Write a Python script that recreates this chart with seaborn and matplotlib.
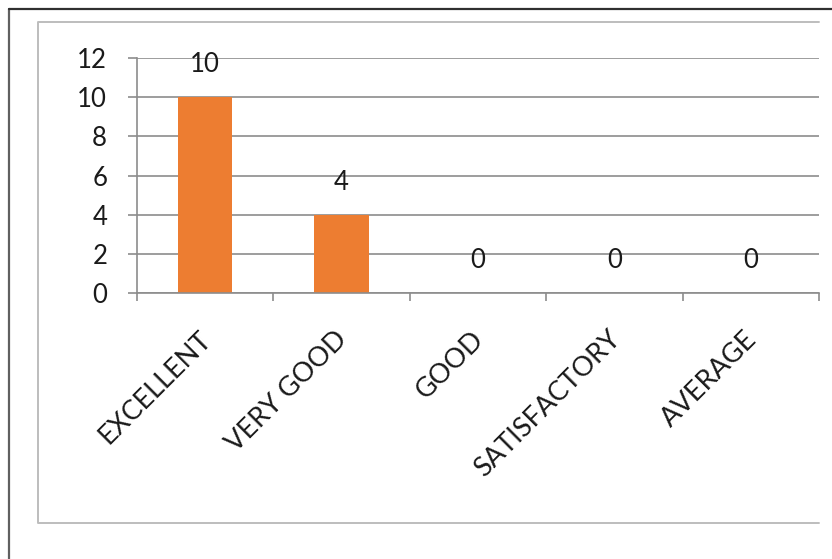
import pandas as pd
import seaborn as sns
import matplotlib.pyplot as plt
import matplotlib.transforms as mtransforms
from matplotlib.lines import Line2D

# datos del grafico
categorias = ['EXCELLENT', 'VERY GOOD', 'GOOD', 'SATISFACTORY', 'AVERAGE']
valores = [10, 4, 0, 0, 0]
y_ticks = [0, 2, 4, 6, 8, 10, 12]

df = pd.DataFrame({'categoria': categorias, 'valor': valores})

sns.set_style("white")
plt.rcParams['font.family'] = ['Lato', 'DejaVu Sans']

W, H = 832, 559
fig = plt.figure(figsize=(W / 100, H / 100), dpi=100)

# posicion del area del grafico en pixeles
left, right, top, bottom = 137, 819, 58, 293
ax = fig.add_axes([left / W, 1 - bottom / H, (right - left) / W, (bottom - top) / H])

sns.barplot(x='categoria', y='valor', data=df, color='#ED7D31', width=0.4,
            saturation=1, linewidth=0, ax=ax)

ax.set_ylim(0, 12)
ax.set_xlim(-0.5, len(categorias) - 0.5)
ax.set_yticks(y_ticks)
ax.set_xlabel('')
ax.set_ylabel('')

grid_color = '#8c8c8c'
ax.yaxis.grid(True, color=grid_color, linewidth=1.2)
ax.set_axisbelow(True)
for s in ['top', 'right']:
    ax.spines[s].set_visible(False)
ax.spines['left'].set_color(grid_color)
ax.spines['bottom'].set_color(grid_color)
ax.spines['left'].set_linewidth(1.2)
ax.spines['bottom'].set_linewidth(1.2)

ax.tick_params(axis='y', direction='out', length=6.5, width=1.2, color=grid_color,
               pad=15, labelsize=18.5, labelcolor='#1a1a1a', left=True)

# marcas del eje x entre categorias
ax.set_xticks([i - 0.5 for i in range(len(categorias) + 1)], minor=True)
ax.tick_params(axis='x', which='minor', direction='out', length=6, width=1.2,
               color=grid_color, bottom=True)
ax.tick_params(axis='x', which='major', length=0, pad=24, labelsize=19.5,
               labelcolor='#1a1a1a')
ax.set_xticks(range(len(categorias)))
ax.set_xticklabels(categorias, rotation=45, ha='right', va='top',
                   rotation_mode='anchor')
offset = mtransforms.ScaledTranslation(-5 / 72, 0, fig.dpi_scale_trans)
for lbl in ax.get_xticklabels():
    lbl.set_transform(lbl.get_transform() + offset)

# etiquetas de datos
ax.bar_label(ax.containers[0], padding=14.5, fontsize=18.5, color='#1a1a1a')

# marcos exteriores
px = lambda x: x / W
py = lambda y: 1 - y / H
fig.add_artist(Line2D([px(9), px(9)], [py(9), py(H + 5)], color='#606060', lw=1.6))
fig.add_artist(Line2D([px(9), px(W + 5)], [py(9), py(9)], color='#303030', lw=1.6))
fig.add_artist(Line2D([px(819), px(38), px(38), px(819)],
                      [py(22), py(22), py(523), py(523)], color='#bdbdbd', lw=1.4))

plt.savefig('out.png', dpi=100)
